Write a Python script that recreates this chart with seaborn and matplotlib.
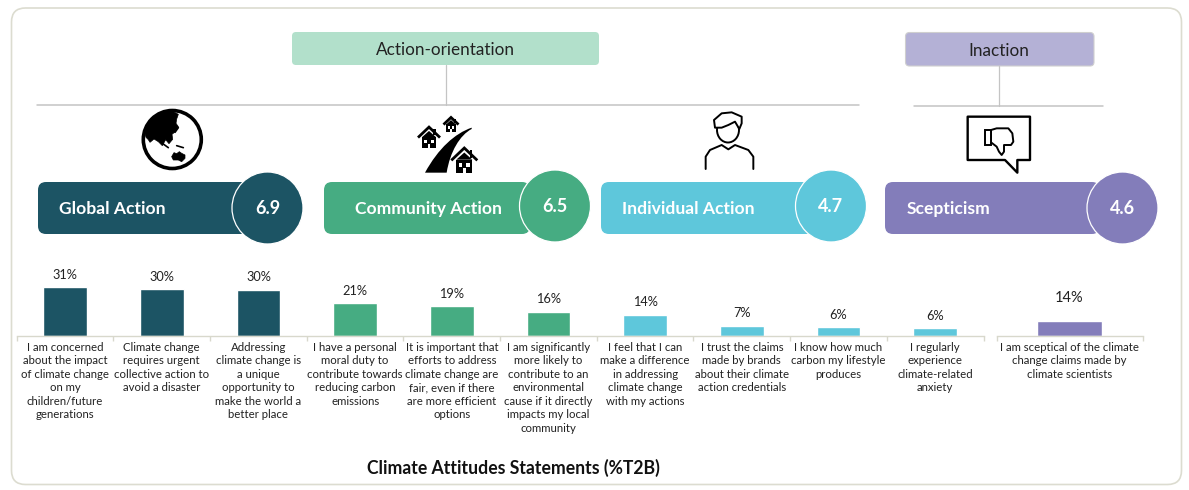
import matplotlib

matplotlib.use("Agg")
import matplotlib.pyplot as plt
import numpy as np
import pandas as pd
import seaborn as sns
from matplotlib.patches import Circle, Ellipse, FancyBboxPatch, PathPatch, Polygon, Rectangle
from matplotlib.path import Path

W, H = 1189, 490

ACTION_STATEMENTS = [
    "I am concerned\nabout the impact\nof climate change\non my\nchildren/future\ngenerations",
    "Climate change\nrequires urgent\ncollective action to\navoid a disaster",
    "Addressing\nclimate change is\na unique\nopportunity to\nmake the world a\nbetter place",
    "I have a personal\nmoral duty to\ncontribute towards\nreducing carbon\nemissions",
    "It is important that\nefforts to address\nclimate change are\nfair, even if there\nare more efficient\noptions",
    "I am significantly\nmore likely to\ncontribute to an\nenvironmental\ncause if it directly\nimpacts my local\ncommunity",
    "I feel that I can\nmake a difference\nin addressing\nclimate change\nwith my actions",
    "I trust the claims\nmade by brands\nabout their climate\naction credentials",
    "I know how much\ncarbon my lifestyle\nproduces",
    "I regularly\nexperience\nclimate-related\nanxiety",
]
ACTION_VALUES = [31, 30, 29.5, 20.8, 18.8, 15.6, 13.6, 6.6, 5.8, 5.2]
ACTION_LABELS = ["31%", "30%", "30%", "21%", "19%", "16%", "14%", "7%", "6%", "6%"]
ACTION_GROUPS = ["Global"] * 3 + ["Community"] * 3 + ["Individual"] * 4

SCEPTIC_STATEMENTS = ["I am sceptical of the climate\nchange claims made by\nclimate scientists"]
SCEPTIC_VALUES = [14]
SCEPTIC_LABELS = ["14%"]

PILL_NAMES = ["Global Action", "Community Action", "Individual Action", "Scepticism"]
PILL_SCORES = ["6.9", "6.5", "4.7", "4.6"]

COLORS = {"Global": "#1c5464", "Community": "#46ac82", "Individual": "#5ec7db", "Sceptic": "#837dba"}
TEXT = "#222222"
FONT = "Lato"


def pixel_axes(fig, left, top, right, bottom):
    return fig.add_axes([left / W, 1 - bottom / H, (right - left) / W, (bottom - top) / H])


def draw_bars(ax, statements, values, groups, width):
    df = pd.DataFrame({"statement": statements, "value": values, "group": groups})
    sns.barplot(
        data=df, x="statement", y="value", hue="group", palette=COLORS,
        dodge=False, width=width, legend=False, saturation=1, ax=ax,
    )
    n = len(statements)
    ax.set_xlim(-0.5, n - 0.5)
    ax.set_ylabel("")
    ax.set_xlabel("")
    ax.set_yticks([])
    sns.despine(ax=ax, left=True)
    ax.spines["bottom"].set_color("#d8d8cc")
    ax.spines["bottom"].set_linewidth(1)
    ax.patch.set_alpha(0)
    ax.set_xticks(np.arange(-0.5, n), minor=True)
    ax.tick_params(axis="x", which="minor", bottom=True, length=3.5, width=1, color="#d8d8cc", direction="out")
    ax.tick_params(axis="x", which="major", bottom=False, length=0, pad=4)
    ax.set_xticks(range(n))
    ax.set_xticklabels(statements, fontsize=8.2, color=TEXT, family=FONT, linespacing=1.28)


def rounded(ax, x0, y0, x1, y1, r, **kw):
    ax.add_patch(FancyBboxPatch((x0 + r, y0 + r), x1 - x0 - 2 * r, y1 - y0 - 2 * r,
                                boxstyle=f"round,pad={r},rounding_size={r}", **kw))


def crop_pts(x0, y0, pts):
    # outlines were traced on 3x crops of the icons
    return [(x0 + px / 3, y0 + py / 3) for px, py in pts]


def house(ax, cx, base, s):
    top = base - s * 1.9
    eave = base - s * 0.95
    ax.add_patch(Polygon([(cx - s, eave), (cx, top), (cx + s, eave)], closed=False, fill=False,
                         ec="black", lw=2, joinstyle="miter"))
    ax.add_patch(Rectangle((cx + s * 0.4, top + s * 0.15), s * 0.2, s * 0.6, fc="black", ec="none"))
    ax.add_patch(Rectangle((cx - s * 0.62, base - s * 1.0), s * 1.24, s * 1.0, fc="black", ec="none"))
    ax.add_patch(Polygon([(cx - s * 0.62, base - s * 1.0), (cx, top + s * 0.35), (cx + s * 0.62, base - s * 1.0)],
                         fc="black", ec="none"))
    ax.add_patch(Rectangle((cx - s * 0.42, base - s * 0.72), s * 0.28, s * 0.3, fc="white", ec="none"))
    ax.add_patch(Rectangle((cx + s * 0.14, base - s * 0.72), s * 0.28, s * 0.3, fc="white", ec="none"))
    ax.add_patch(Rectangle((cx - s * 0.1, base - s * 0.4), s * 0.2, s * 0.4, fc="white", ec="none"))


def draw_icons(ax):
    # globe
    ax.add_patch(Circle((172.3, 139.5), 29, fc="white", ec="black", lw=2.6))
    cap = [(45, 85), (50, 60), (70, 35), (100, 20), (130, 20), (145, 28), (140, 42), (138, 55), (145, 65),
           (136, 80), (126, 88), (128, 103), (117, 116), (107, 104), (97, 122), (85, 110), (72, 102),
           (60, 112), (55, 104), (48, 97)]
    ax.add_patch(Polygon(crop_pts(130, 105, cap), fc="black", ec="black", lw=0.5))
    australia = [(125, 155), (132, 143), (140, 146), (148, 140), (155, 145), (165, 150), (165, 160),
                 (155, 170), (145, 165), (130, 165)]
    ax.add_patch(Polygon(crop_pts(130, 105, australia), fc="black", ec="black", lw=0.5))
    for seg in ([(97, 115), (115, 128)], [(140, 122), (160, 128)], [(145, 68), (135, 82)]):
        xs, ys = zip(*crop_pts(130, 105, seg))
        ax.plot(xs, ys, color="black", lw=1.2)

    # road and houses
    road = Path(
        crop_pts(405, 105, [(60, 203), (100, 130), (150, 85), (200, 68), (200, 72), (165, 90), (135, 140), (125, 203), (60, 203)]),
        [Path.MOVETO, Path.CURVE4, Path.CURVE4, Path.CURVE4, Path.LINETO, Path.CURVE4, Path.CURVE4, Path.CURVE4, Path.CLOSEPOLY],
    )
    ax.add_patch(PathPatch(road, fc="black", ec="none"))
    house(ax, 429, 148, 11)
    house(ax, 451, 131.7, 7.5)
    house(ax, 464.3, 172.7, 13)

    # person
    ax.add_patch(Ellipse((728, 130), 22, 25, fc="white", ec="black", lw=1.4))
    hair = [(75, 68), (72, 45), (95, 25), (125, 22), (155, 35), (155, 55), (148, 72), (135, 50), (115, 60), (95, 68)]
    ax.add_patch(Polygon(crop_pts(690, 105, hair), fc="white", ec="black", lw=1.4, joinstyle="round"))
    body = [(47, 192), (47, 155), (60, 135), (95, 120), (115, 133), (135, 120), (175, 135), (190, 155), (190, 192)]
    xs, ys = zip(*crop_pts(690, 105, body))
    ax.plot(xs, ys, color="black", lw=1.4, solid_joinstyle="round")

    # speech bubble with thumb down
    bubble = [(38, 35), (225, 35), (225, 165), (187, 165), (187, 203), (150, 165), (38, 165)]
    ax.add_patch(Polygon(crop_pts(955, 105, bubble), fc="white", ec="black", lw=1.7, joinstyle="round"))
    hand = [(108, 75), (125, 70), (160, 70), (172, 85), (175, 110), (168, 120), (147, 120), (147, 140),
            (140, 150), (132, 140), (125, 125), (108, 112)]
    ax.add_patch(Polygon(crop_pts(955, 105, hand), fc="white", ec="black", lw=1.4, joinstyle="round"))
    cuff = [(90, 75), (108, 75), (108, 120), (90, 120)]
    ax.add_patch(Polygon(crop_pts(955, 105, cuff), fc="white", ec="black", lw=1.4))


def draw_frame(ax):
    rounded(ax, 11.5, 8, 1181.5, 484.5, 14, fc="white", ec="#dcdcd0", lw=1.2, zorder=0)

    rounded(ax, 292, 32, 599, 65, 4, fc="#b2e0cb", ec="none")
    ax.text(445.5, 50, "Action-orientation", ha="center", va="center", fontsize=12.3, color=TEXT, family=FONT)
    rounded(ax, 905.5, 32.5, 1094, 66, 4, fc="#b4b1d6", ec="#cfcfcf", lw=0.8)
    ax.text(999, 50.5, "Inaction", ha="center", va="center", fontsize=12.3, color=TEXT, family=FONT)

    ax.plot([446, 446], [65, 105], color="#c4c4c4", lw=0.9)
    ax.plot([37, 859], [105, 105], color="#c4c4c4", lw=1.1)
    ax.plot([999, 999], [66, 106], color="#c4c4c4", lw=0.9)
    ax.plot([914, 1103], [106, 106], color="#c4c4c4", lw=1.1)

    pills = [(38, 250, 267.5, 208, 59, "Global"), (324, 530, 555, 206, 355, "Community"),
             (601, 815, 831, 206, 622, "Individual"), (885, 1100, 1122.5, 208, 907, "Sceptic")]
    for (x0, x1, cx, cy, tx, key), name, score in zip(pills, PILL_NAMES, PILL_SCORES):
        rounded(ax, x0, 182, x1, 234, 8, fc=COLORS[key], ec="none")
        ax.add_patch(Ellipse((cx, cy), 71, 72, fc=COLORS[key], ec="white", lw=0.9))
        ax.text(tx, 209, name, ha="left", va="center", fontsize=12.6, fontweight="bold", color="white", family=FONT)
        ax.text(cx, cy + 0.5, score, ha="center", va="center", fontsize=13, fontweight="bold", color="white", family=FONT)

    ax.text(513.5, 468, "Climate Attitudes Statements (%T2B)", ha="center", va="center",
            fontsize=12.7, fontweight="bold", color="#111111", family=FONT)


def main():
    sns.set_theme(style="white")
    plt.rcParams["font.family"] = [FONT, "DejaVu Sans"]

    fig = plt.figure(figsize=(W / 100, H / 100), dpi=100, facecolor="white")

    overlay = fig.add_axes([0, 0, 1, 1], zorder=0)
    overlay.set_xlim(0, W)
    overlay.set_ylim(H, 0)
    overlay.axis("off")
    draw_frame(overlay)
    draw_icons(overlay)

    # the two panels have different y scales in the original
    main_ax = pixel_axes(fig, 16.8, 270, 983.5, 336)
    main_ax.set_ylim(0, 66 / 1.57)
    draw_bars(main_ax, ACTION_STATEMENTS, ACTION_VALUES, ACTION_GROUPS, 0.45)
    for bar_x, value, label in zip(range(10), ACTION_VALUES, ACTION_LABELS):
        main_ax.annotate(label, (bar_x, value), xytext=(0, 4.5), textcoords="offset points", ha="center",
                         va="bottom", fontsize=9.2, color=TEXT, family=FONT)

    side_ax = pixel_axes(fig, 996.5, 270, 1142.5, 336)
    side_ax.set_ylim(0, 66 / 1.07)
    draw_bars(side_ax, SCEPTIC_STATEMENTS, SCEPTIC_VALUES, ["Sceptic"], 0.45)
    side_ax.annotate(SCEPTIC_LABELS[0], (0, SCEPTIC_VALUES[0]), xytext=(0, 11.7), textcoords="offset points",
                     ha="center", va="bottom", fontsize=10.5, color=TEXT, family=FONT)

    fig.savefig("out.png", dpi=100)
    plt.close(fig)


if __name__ == "__main__":
    main()
